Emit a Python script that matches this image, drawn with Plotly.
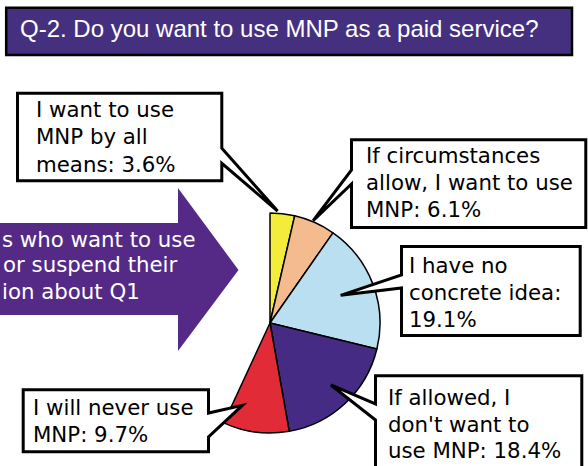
import math
import plotly.graph_objects as go

# ---------------- data ----------------
categories = [
    "I want to use MNP by all means",
    "If circumstances allow, I want to use MNP",
    "I have no concrete idea",
    "If allowed, I don't want to use MNP",
    "I will never use MNP",
]
values = [3.6, 6.1, 19.1, 18.4, 9.7]
# label text as it is broken into lines inside each call-out box
label_lines = [
    ["I want to use", "MNP by all", "means: {v}%"],
    ["If circumstances", "allow, I want to use", "MNP: {v}%"],
    ["I have no", "concrete idea:", "{v}%"],
    ["If allowed, I", "don't want to", "use MNP: {v}%"],
    ["I will never use", "MNP: {v}%"],
]
title_text = "Q-2. Do you want to use MNP as a paid service?"
arrow_lines = ["s who want to use", "or suspend their", "ion about Q1"]

remainder = 100 - sum(values)
colors = ["#F4EC3A", "#F4BB8F", "#B9DFF1", "#462B84", "#E12B36"]

# ---------------- layout constants ----------------
W, H = 588, 466
CX, CY, R = 270, 323, 110
TFONT = "Liberation Sans, Arial, sans-serif"
FONT = "DejaVu Sans, sans-serif"
TFS = 24
FS = 21.3


def px(x):
    return x / W


def py(y):
    return 1 - y / H


fig = go.Figure()
fig.add_trace(go.Pie(
    values=values + [remainder],
    labels=categories + [""],
    sort=False,
    direction="clockwise",
    rotation=0,
    marker=dict(
        colors=colors + ["rgba(0,0,0,0)"],
        line=dict(color=["black"] * len(values) + ["rgba(0,0,0,0)"],
                  width=[1.5] * len(values) + [0]),
    ),
    textinfo="none",
    hoverinfo="skip",
    showlegend=False,
    domain=dict(x=[px(CX - R), px(CX + R)], y=[py(CY + R), py(CY - R)]),
))

shapes = []
annotations = []

# title box
shapes.append(dict(type="rect", xref="paper", yref="paper",
                   x0=px(6.2), x1=px(572), y0=py(7.8), y1=py(55),
                   fillcolor="#45307F", line=dict(color="black", width=2.5)))
annotations.append(dict(xref="paper", yref="paper", x=px(19), y=py(36.7 - 0.35 * TFS),
                        xanchor="left", yanchor="middle", showarrow=False, borderpad=0,
                        text=title_text, font=dict(family=TFONT, size=TFS, color="white")))

# big arrow on the left
arrow_path = "M {} {} L {} {} L {} {} L {} {} L {} {} L {} {} L {} {} Z".format(
    px(-20), py(223), px(178), py(223), px(178), py(188), px(238.5), py(270),
    px(178), py(351), px(178), py(315), px(-20), py(315))
shapes.append(dict(type="path", xref="paper", yref="paper", path=arrow_path,
                   fillcolor="#552A86", line=dict(width=0), layer="below"))
arrow_left = [0.5, 1.5, 0.5]
arrow_base = [246.7, 272, 298.5]
for t, xl, yb in zip(arrow_lines, arrow_left, arrow_base):
    annotations.append(dict(xref="paper", yref="paper", x=px(xl), y=py(yb - 0.35 * FS),
                            xanchor="left", yanchor="middle", showarrow=False, borderpad=0,
                            text=t, font=dict(family=FONT, size=FS, color="white")))

# call-out boxes (one per slice, same order as values)
boxes = [
    (17.5, 93.2, 221.8, 180.8, "right", 148.3, 163.3),
    (351.5, 139.8, 585.8, 227.5, "left", 170, 184),
    (401.5, 246.5, 580.2, 335.5, "left", 275, 288),
    (375.5, 375.8, 581.8, 490, "left", 404, 420),
    (23.2, 389.8, 208.5, 451.8, "right", 413, 437),
]
tip_frac = [0.3, 0.45, 0.49, 0.48, 0.82]
tip_rad = [1.02, 1.01, 0.69, 0.79, 0.79]
text_x = [35, 364.5, 407.5, 386.5, 31.5]
text_base = [
    [116.7, 144.3, 172.3],
    [163.3, 190, 216.7],
    [272.7, 300, 327],
    [405, 431.7, 458.3],
    [415, 441.7],
]

total = sum(values) + remainder
cum = 0
for i, v in enumerate(values):
    a0 = cum / total * 360
    a1 = (cum + v) / total * 360
    cum += v
    ang = math.radians(a0 + tip_frac[i] * (a1 - a0))
    tx = CX + tip_rad[i] * R * math.sin(ang)
    ty = CY - tip_rad[i] * R * math.cos(ang)
    x0, y0, x1, y1, side, p1, p2 = boxes[i]
    if side == "right":
        pts = [(x0, y0), (x1, y0), (x1, p1), (tx, ty), (x1, p2), (x1, y1), (x0, y1)]
    else:
        pts = [(x0, y0), (x1, y0), (x1, y1), (x0, y1), (x0, p2), (tx, ty), (x0, p1)]
    path = "M " + " L ".join("{} {}".format(px(a), py(b)) for a, b in pts) + " Z"
    shapes.append(dict(type="path", xref="paper", yref="paper", path=path,
                       fillcolor="white", line=dict(color="black", width=3)))
    for line, yb in zip(label_lines[i], text_base[i]):
        annotations.append(dict(xref="paper", yref="paper", x=px(text_x[i]),
                                y=py(yb - 0.35 * FS), xanchor="left", yanchor="middle",
                                showarrow=False, borderpad=0,
                                text=line.format(v=v),
                                font=dict(family=FONT, size=FS, color="black")))

fig.update_layout(
    width=W, height=H,
    margin=dict(l=0, r=0, t=0, b=0),
    paper_bgcolor="white",
    plot_bgcolor="white",
    shapes=shapes,
    annotations=annotations,
    showlegend=False,
)

fig.write_html("out.html", config={"displayModeBar": False})
